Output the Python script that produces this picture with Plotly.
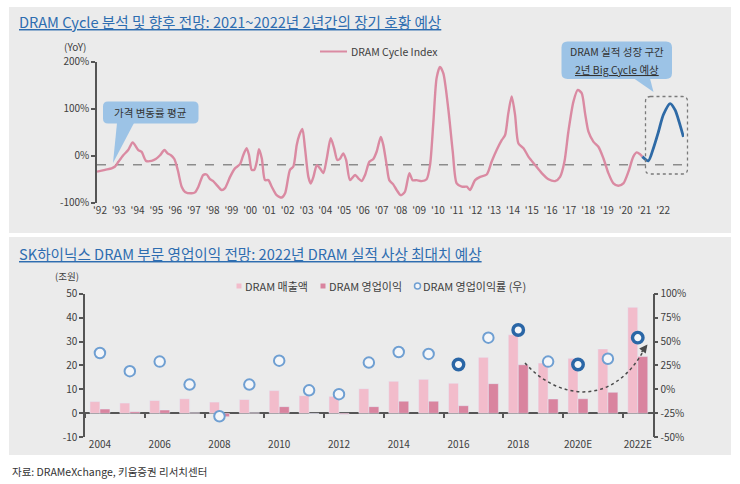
import plotly.graph_objects as go

W, H = 740, 484

# ---------------- Data: DRAM Cycle Index (YoY %) ----------------
cycle_years = [1991.84, 1992.27, 1992.62, 1992.8, 1992.98, 1993.24, 1993.5, 1993.74, 1994.04, 1994.22,
               1994.45, 1994.75, 1994.97, 1995.2, 1995.43, 1995.6, 1995.78, 1995.96, 1996.14, 1996.35,
               1996.53, 1996.89, 1997.06, 1997.24, 1997.5, 1997.68, 1997.86, 1998.03, 1998.21, 1998.48,
               1998.66, 1998.93, 1999.19, 1999.46, 1999.63, 1999.81, 1999.94, 2000.08, 2000.22, 2000.35,
               2000.47, 2000.62, 2000.79, 2000.97, 2001.15, 2001.41, 2001.68, 2001.86, 2002.12, 2002.3,
               2002.48, 2002.62, 2002.78, 2002.92, 2003.1, 2003.23, 2003.37, 2003.55, 2003.72, 2003.9,
               2004.08, 2004.29, 2004.47, 2004.64, 2004.79, 2004.96, 2005.11, 2005.32, 2005.59, 2005.76,
               2005.94, 2006.12, 2006.35, 2006.56, 2006.74, 2006.96, 2007.09, 2007.27, 2007.41, 2007.62,
               2007.8, 2008.02, 2008.24, 2008.48, 2008.65, 2008.87, 2009.13, 2009.4, 2009.58, 2009.76,
               2009.93, 2010.11, 2010.29, 2010.55, 2010.79, 2011.0, 2011.27, 2011.54, 2011.71, 2011.98,
               2012.25, 2012.6, 2012.86, 2013.13, 2013.4, 2013.58, 2013.75, 2013.93, 2014.11, 2014.29,
               2014.56, 2014.82, 2015.18, 2015.53, 2015.89, 2016.24, 2016.51, 2016.74, 2016.95, 2017.22,
               2017.45, 2017.66, 2017.84, 2018.02, 2018.28, 2018.55, 2018.82, 2019.08, 2019.35, 2019.61,
               2019.88, 2020.15, 2020.41, 2020.59, 2020.77, 2020.89]
cycle_values = [-34, -30, -27, -23, -13, 1, 12, 28, 12, 8,
                -11, -11, -7, 1, 12, 5, 1, -7, -30, -66,
                -77, -80, -78, -66, -41, -40, -50, -54, -62, -73,
                -69, -45, -27, -18, 1, 16, 1, -30, -30, -13,
                14, -6, -52, -52, -66, -84, -89, -80, -30, -23,
                23, 44, 57, 16, -45, -59, -45, -20, -27, -37,
                -6, 37, 16, -9, -6, 5, -9, -52, -41, -48,
                -54, -41, -13, -7, 9, 40, 23, -20, -52, -61,
                -73, -84, -77, -37, -52, -52, -54, -50, -20, 72,
                165, 189, 175, 101, 9, -59, -66, -66, -73, -52,
                -45, -40, -13, 12, 33, 44, 90, 126, 87, 26,
                16, -2, -20, -37, -50, -54, -45, -13, 51, 115,
                140, 133, 90, 51, 30, 19, -6, -37, -59, -64,
                -59, -34, -2, 7, 3, -2]
forecast_years = [2020.89, 2021.21, 2021.48, 2021.75, 2022.01, 2022.37, 2022.64, 2022.85, 2023.08]
forecast_values = [-2, -11, 16, 51, 87, 111, 97, 72, 40]
cycle_mean = -19
year_ticks = list(range(1992, 2023))
year_labels = ["'" + str(y)[2:] for y in year_ticks]
top_y_ticks = [-100, 0, 100, 200]
top_y_labels = ["-100%", "0%", "100%", "200%"]

# ---------------- Data: SK hynix DRAM ----------------
categories = ["2004", "2005", "2006", "2007", "2008", "2009", "2010", "2011", "2012", "2013",
              "2014", "2015", "2016", "2017", "2018", "2019", "2020E", "2021E", "2022E"]
revenue = [4.9, 4.3, 5.4, 6.1, 4.7, 5.8, 9.5, 7.4, 7.1, 10.3,
           13.4, 14.2, 12.6, 23.4, 32.8, 21.0, 23.0, 26.9, 44.3]
op_profit = [1.8, 0.7, 1.4, 0.3, -1.4, 0.3, 2.8, -0.05, -0.4, 2.8,
             5.1, 5.1, 3.2, 12.4, 20.3, 6.0, 6.1, 8.8, 23.7]
op_margin = [38, 19, 29, 5, -28, 5, 30, -1, -5, 28,
             39, 37, 26, 54, 62, 29, 26, 32, 54]
highlight = ["2016", "2018", "2020E", "2022E"]
left_ticks = [-10, 0, 10, 20, 30, 40, 50]
left_labels = ["-10", "0", "10", "20", "30", "40", "50"]
right_ticks = [-50, -25, 0, 25, 50, 75, 100]
right_labels = ["-50%", "-25%", "0%", "25%", "50%", "75%", "100%"]

FONT = "Noto Sans CJK KR, Noto Sans, sans-serif"
TXT = "#404040"
AX = "#555555"
PINK = "#da8aa2"
BLUE = "#2e6aa6"
LIGHT_BAR = "#f2bccb"
DARK_BAR = "#d9849f"
THIN_RING = "#6f9fd2"
THICK_RING = "#2a66a6"


def fx(px):
    return px / W


def fy(py):
    return 1 - py / H


def P(px, py):
    return f"{fx(px):.5f},{fy(py):.5f}"


def rrect(x0, y0, x1, y1, r):
    return (f"M {P(x0 + r, y0)} L {P(x1 - r, y0)} Q {P(x1, y0)} {P(x1, y0 + r)} "
            f"L {P(x1, y1 - r)} Q {P(x1, y1)} {P(x1 - r, y1)} L {P(x0 + r, y1)} "
            f"Q {P(x0, y1)} {P(x0, y1 - r)} L {P(x0, y0 + r)} Q {P(x0, y0)} {P(x0 + r, y0)} Z")


fig = go.Figure()

# Top chart lines
fig.add_trace(go.Scatter(x=cycle_years, y=cycle_values, mode="lines", name="DRAM Cycle Index",
                         line=dict(color=PINK, width=2.4, shape="spline", smoothing=0.7),
                         xaxis="x", yaxis="y", showlegend=False, hoverinfo="skip"))
fig.add_trace(go.Scatter(x=forecast_years, y=forecast_values, mode="lines", name="forecast",
                         line=dict(color=BLUE, width=2.8, shape="spline", smoothing=0.7),
                         xaxis="x", yaxis="y", showlegend=False, hoverinfo="skip"))

# Bottom chart
fig.add_trace(go.Bar(x=categories, y=revenue, name="DRAM 매출액", marker=dict(color=LIGHT_BAR),
                     xaxis="x2", yaxis="y2", showlegend=False))
fig.add_trace(go.Bar(x=categories, y=op_profit, name="DRAM 영업이익", marker=dict(color=DARK_BAR),
                     xaxis="x2", yaxis="y2", showlegend=False))
line_w = [3.4 if c in highlight else 2.0 for c in categories]
line_c = [THICK_RING if c in highlight else THIN_RING for c in categories]
fig.add_trace(go.Scatter(x=categories, y=op_margin, mode="markers", name="DRAM 영업이익률 (우)",
                         marker=dict(symbol="circle", size=10.5, color="#f4f6f9",
                                     line=dict(width=line_w, color=line_c)),
                         xaxis="x2", yaxis="y3", showlegend=False))
# empty trace to host the tick-only overlay axis on the zero line
fig.add_trace(go.Scatter(x=[], y=[], xaxis="x4", yaxis="y2", showlegend=False, hoverinfo="skip"))

shapes = []
# panel backgrounds
shapes.append(dict(type="rect", xref="paper", yref="paper", x0=fx(9), x1=fx(731), y0=fy(233), y1=fy(7),
                   fillcolor="#ebebeb", line=dict(width=0), layer="below"))
shapes.append(dict(type="rect", xref="paper", yref="paper", x0=fx(9), x1=fx(731), y0=fy(455), y1=fy(237),
                   fillcolor="#ebebeb", line=dict(width=0), layer="below"))
# mean dashed line
shapes.append(dict(type="line", xref="x domain", yref="y", x0=0, x1=1, y0=cycle_mean, y1=cycle_mean,
                   line=dict(color="#8c8c8c", width=1.5, dash="dash"), layer="below"))
# callout 1
CB = "#9cc3e6"
shapes.append(dict(type="path", xref="paper", yref="paper", path=rrect(103, 101.5, 198.5, 123.5, 5),
                   fillcolor=CB, line=dict(width=0)))
shapes.append(dict(type="path", xref="paper", yref="paper",
                   path=f"M {P(117, 123)} L {P(134, 123)} L {P(113, 163)} Z",
                   fillcolor=CB, line=dict(width=0)))
# callout 2
shapes.append(dict(type="path", xref="paper", yref="paper", path=rrect(561.5, 41.5, 672, 79, 6),
                   fillcolor=CB, line=dict(width=0)))
shapes.append(dict(type="path", xref="paper", yref="paper",
                   path=f"M {P(634, 78.5)} L {P(650, 78.5)} L {P(653.5, 92)} Z",
                   fillcolor=CB, line=dict(width=0)))
# dotted box around forecast
shapes.append(dict(type="path", xref="paper", yref="paper", path=rrect(645.5, 96.5, 687.5, 174, 5),
                   line=dict(color="#7a7a7a", width=1.3, dash="dot")))
# dotted curved arrow (bottom)
shapes.append(dict(type="path", xref="paper", yref="paper",
                   path=f"M {P(525, 363)} C {P(556, 398)} {P(612, 410)} {P(645, 348)}",
                   line=dict(color="#4a4a4a", width=1.5, dash="dot")))

# legend keys (drawn to match the compact reference legends)
shapes.append(dict(type="line", xref="paper", yref="paper", x0=fx(320), x1=fx(347), y0=fy(51.5), y1=fy(51.5),
                   line=dict(color=PINK, width=2)))
shapes.append(dict(type="rect", xref="paper", yref="paper", x0=fx(236.5), x1=fx(241.5), y0=fy(288.5),
                   y1=fy(283.5), fillcolor=LIGHT_BAR, line=dict(width=0)))
shapes.append(dict(type="rect", xref="paper", yref="paper", x0=fx(320.5), x1=fx(325.5), y0=fy(288.5),
                   y1=fy(283.5), fillcolor=DARK_BAR, line=dict(width=0)))
shapes.append(dict(type="circle", xref="paper", yref="paper", x0=fx(414.5), x1=fx(420.5), y0=fy(289),
                   y1=fy(283), fillcolor="#f4f6f9", line=dict(color=THIN_RING, width=1.5)))

annotations = [
    dict(text="<u>DRAM Cycle 분석 및 향후 전망: 2021~2022년 2년간의 장기 호황 예상</u>",
         x=fx(17), y=fy(22), xref="paper", yref="paper", xanchor="left", yanchor="middle",
         showarrow=False, font=dict(size=14.6, color="#2e6db0")),
    dict(text="<u>SK하이닉스 DRAM 부문 영업이익 전망: 2022년 DRAM 실적 사상 최대치 예상</u>",
         x=fx(17), y=fy(253), xref="paper", yref="paper", xanchor="left", yanchor="middle",
         showarrow=False, font=dict(size=14.6, color="#2e6db0")),
    dict(text="(YoY)", x=fx(75), y=fy(46), xref="paper", yref="paper", xanchor="center", yanchor="middle",
         showarrow=False, font=dict(size=10, color=TXT)),
    dict(text="(조원)", x=fx(67), y=fy(276), xref="paper", yref="paper", xanchor="center", yanchor="middle",
         showarrow=False, font=dict(size=9.5, color=TXT)),
    dict(text="DRAM Cycle Index", x=fx(349), y=fy(51), xref="paper", yref="paper", xanchor="left",
         yanchor="middle", showarrow=False, font=dict(size=10.5, color=TXT)),
    dict(text="DRAM 매출액", x=fx(242.5), y=fy(285.5), xref="paper", yref="paper", xanchor="left",
         yanchor="middle", showarrow=False, font=dict(size=11, color=TXT)),
    dict(text="DRAM 영업이익", x=fx(326.5), y=fy(285.5), xref="paper", yref="paper", xanchor="left",
         yanchor="middle", showarrow=False, font=dict(size=11, color=TXT)),
    dict(text="DRAM 영업이익률 (우)", x=fx(421), y=fy(285.5), xref="paper", yref="paper", xanchor="left",
         yanchor="middle", showarrow=False, font=dict(size=11, color=TXT)),
    dict(text="가격 변동률 평균", x=fx(150.7), y=fy(112.5), xref="paper", yref="paper",
         xanchor="center", yanchor="middle", showarrow=False, font=dict(size=10.5, color="#333333")),
    dict(text="DRAM 실적 성장 구간", x=fx(616.7), y=fy(52), xref="paper", yref="paper",
         xanchor="center", yanchor="middle", showarrow=False, font=dict(size=10.5, color="#333333")),
    dict(text="<u>2년 Big Cycle 예상</u>", x=fx(616.7), y=fy(69.5), xref="paper", yref="paper",
         xanchor="center", yanchor="middle", showarrow=False, font=dict(size=10.5, color="#333333")),
    dict(text="자료: DRAMeXchange, 키움증권 리서치센터", x=fx(10), y=fy(471), xref="paper", yref="paper",
         xanchor="left", yanchor="middle", showarrow=False, font=dict(size=10.5, color="#333333")),
    dict(text="", x=fx(647.5), y=fy(344.5), xref="paper", yref="paper", showarrow=True,
         ax=-7, ay=9, axref="pixel", ayref="pixel", arrowhead=2, arrowsize=1.1, arrowwidth=1.5,
         arrowcolor="#4a4a4a"),
]

tickfont = dict(size=10, color=TXT)

fig.update_layout(
    width=W, height=H,
    margin=dict(l=0, r=0, t=0, b=0, pad=0, autoexpand=False),
    paper_bgcolor="white", plot_bgcolor="rgba(0,0,0,0)",
    font=dict(family=FONT, size=10, color=TXT),
    showlegend=False,
    barmode="group", bargap=0.33, bargroupgap=0,
    shapes=shapes, annotations=annotations,
    xaxis=dict(domain=[fx(97), fx(684)], range=[1991.84, 2023.11], anchor="y",
               tickmode="array", tickvals=year_ticks, ticktext=year_labels,
               showline=False, ticks="", showgrid=False, zeroline=False, tickfont=tickfont),
    yaxis=dict(domain=[fy(202.7), fy(61.7)], range=[-100, 200], anchor="x",
               tickmode="array", tickvals=top_y_ticks, ticktext=top_y_labels,
               showline=True, linecolor=AX, linewidth=1.5, ticks="outside", ticklen=4,
               tickcolor=AX, tickwidth=1.5, showgrid=False, zeroline=False, tickfont=tickfont),
    xaxis2=dict(domain=[fx(85), fx(652.7)], type="category", range=[-0.5, 18.5], anchor="y2",
                tickmode="array", tickvals=categories[::2], ticktext=categories[::2],
                showline=False, ticks="", showgrid=False, zeroline=False, tickfont=tickfont),
    xaxis4=dict(domain=[fx(85), fx(652.7)], type="linear", range=[-0.5, 18.5], overlaying="x2",
                anchor="free", position=fy(413.3), side="bottom",
                tickmode="linear", tick0=-0.5, dtick=2, ticks="outside", ticklen=4,
                tickcolor=AX, tickwidth=1.5, showticklabels=False, showline=False,
                showgrid=False, zeroline=False),
    yaxis2=dict(domain=[fy(437.3), fy(293.6)], range=[-10, 50], anchor="x2",
                tickmode="array", tickvals=left_ticks, ticktext=left_labels,
                showline=True, linecolor=AX, linewidth=1.5, ticks="outside", ticklen=4,
                tickcolor=AX, tickwidth=1.5, showgrid=False,
                zeroline=True, zerolinecolor=AX, zerolinewidth=1.5, tickfont=tickfont),
    yaxis3=dict(range=[-50, 100], overlaying="y2", side="right", anchor="x2",
                tickmode="array", tickvals=right_ticks, ticktext=right_labels,
                showline=True, linecolor=AX, linewidth=1.5, ticks="outside", ticklen=4,
                tickcolor=AX, tickwidth=1.5, showgrid=False, zeroline=False, tickfont=tickfont),
)

fig.write_html("out.html", config={"displayModeBar": False},
               post_script="document.body.style.margin='0px';")
